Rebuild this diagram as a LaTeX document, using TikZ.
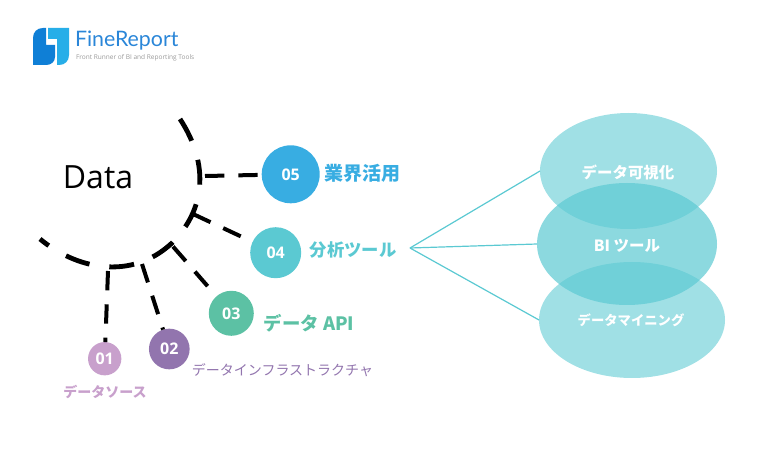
\documentclass[tikz,border=0pt]{standalone}
\usepackage{fontspec}
\setmainfont{Open Sans}
\newfontfamily\jpfont{Noto Sans CJK JP}
\newfontfamily\brandfont{Lato}
\usetikzlibrary{shapes.geometric}
\definecolor{logodark}{HTML}{0F7FD6}
\definecolor{logolight}{HTML}{27AEE8}
\definecolor{logotext}{HTML}{2A86D8}
\definecolor{tagtext}{HTML}{9A9A9A}
\definecolor{srccol}{HTML}{C8A0CC}
\definecolor{infracol}{HTML}{9275AE}
\definecolor{apicol}{HTML}{5CC1A4}
\definecolor{toolcol}{HTML}{5BC9D2}
\definecolor{usecol}{HTML}{38ADE2}
\tikzset{
  every node/.append style={inner sep=0pt, outer sep=0pt},
  numdot/.style={circle, fill=#1, text=white, font=\fontsize{12}{14}\selectfont\bfseries},
  steplabel/.style={text=#1, font=\fontsize{10.5}{13}\selectfont\jpfont\bfseries},
  trunkline/.style={line width=3.6pt, black, dash pattern=on 18.75pt off 15pt, dash phase=10.5pt},
  branchline/.style={line width=3pt, black, dash pattern=on 14.5pt off 10.5pt},
  blob/.style={ellipse, fill=toolcol, fill opacity=#1, text opacity=1, text=white},
  spoke/.style={toolcol, line width=0.9pt},
}
\begin{document}
\begin{tikzpicture}[x=0.75pt, y=-0.75pt]
  \useasboundingbox (0,0) rectangle (763,459);
  % logo
  \fill[logodark] (33,65) -- (33,38) .. controls (33,32) and (37,28) .. (43,28) -- (46,28) -- (46,45) -- (55,45) -- (55,57) .. controls (55,62) and (51,65) .. (46,65) -- cycle;
  \fill[logolight] (48,28) -- (69,28) -- (69,55) .. controls (69,61) and (65,65) .. (59,65) -- (57,65) -- (57,39) -- (48,39) -- cycle;
  \node[anchor=west, text=logotext, font=\fontsize{16}{20}\selectfont\brandfont] (brand) at (75,41) {FineReport};
  \node[anchor=west, text=tagtext, font=\fontsize{4.9}{6}\selectfont] (tagline) at (76,58) {Front Runner of BI and Reporting Tools};
  \node[font=\fontsize{24}{28}\selectfont] (title) at (98,177) {Data};
  % trunk
  \coordinate (t0) at (40,239);
  \coordinate (t2) at (172,243);
  \coordinate (t4) at (180,119);
  \draw[trunkline] (t0) .. controls (75,268) and (130,282) .. (t2) .. controls (205,210) and (210,165) .. (t4);
  % circles
  \node[numdot=srccol, minimum size=25pt] (n1) at (104.7,358.7) {01};
  \node[numdot=infracol, minimum size=30.5pt] (n2) at (169.3,349) {02};
  \node[numdot=apicol, minimum size=33.75pt] (n3) at (231.3,313.3) {03};
  \node[numdot=toolcol, minimum size=38.25pt] (n4) at (275.7,252.7) {04};
  \node[numdot=usecol, minimum size=43.5pt] (n5) at (290.7,174.3) {05};
  % branches
  \coordinate (b1) at (108,271);
  \coordinate (b2) at (142,264);
  \coordinate (b3) at (173,246.5);
  \coordinate (b4) at (193,214);
  \coordinate (b5) at (205,176);
  \foreach \i in {1,...,5} { \draw[branchline] (b\i) -- (n\i); }
  % labels
  \node[steplabel=srccol] (l1) at (105,392) {データソース};
  \node[text=infracol, font=\fontsize{10.5}{13}\selectfont\jpfont] (l2) at (282.5,370) {データインフラストラクチャ};
  \node[steplabel=apicol, font=\fontsize{13.8}{16}\selectfont\jpfont\bfseries] (l3) at (309,323.5) {データ API};
  \node[steplabel=toolcol, font=\fontsize{13}{16}\selectfont\jpfont\bfseries] (l4) at (353,250) {分析ツール};
  \node[steplabel=usecol, font=\fontsize{14.25}{17}\selectfont\jpfont\bfseries] (l5) at (362,173) {業界活用};
  % tools
  \node[blob=0.58, minimum width=139.5pt, minimum height=87pt] (e3) at (632,320) {};
  \node[blob=0.58, minimum width=132.75pt, minimum height=87pt] (e1) at (628.5,171) {};
  \node[blob=0.7, minimum width=135pt, minimum height=91.5pt] (e2) at (627,244) {};
  \node[text=white, font=\fontsize{11.6}{14}\selectfont\jpfont\bfseries] (e1t) at (628,172) {データ可視化};
  \node[text=white, font=\fontsize{11.6}{14}\selectfont\jpfont\bfseries] (e2t) at (627,246) {BI ツール};
  \node[text=white, font=\fontsize{10}{12}\selectfont\jpfont\bfseries] (e3t) at (631,320) {データマイニング};
  \coordinate (hub) at (410,248);
  \foreach \e in {e1,e2,e3} { \draw[spoke] (hub) -- (\e.west); }
\end{tikzpicture}
\end{document}
